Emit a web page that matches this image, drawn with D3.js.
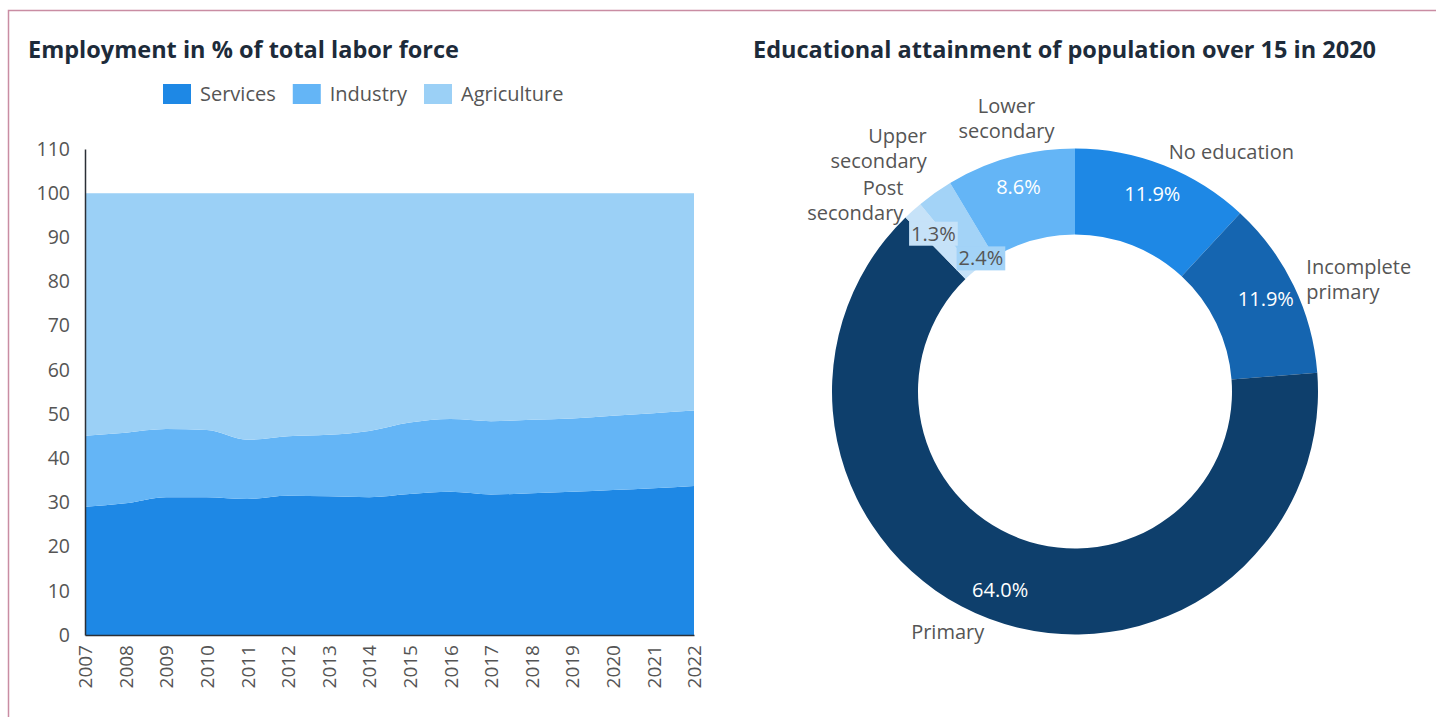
<!DOCTYPE html>
<html><head><meta charset="utf-8">
<script src="https://cdn.jsdelivr.net/npm/d3@7"></script>
<style>
html,body{margin:0;padding:0;background:#fff;}
svg{display:block;font-family:"Open Sans",sans-serif;}
</style></head><body>
<svg id="c" width="1436" height="717"></svg>
<script>
// ---------- data ----------
const years = [2007,2008,2009,2010,2011,2012,2013,2014,2015,2016,2017,2018,2019,2020,2021,2022];
const services    = [29.0,29.8,31.2,31.2,30.8,31.5,31.4,31.2,31.9,32.4,31.8,32.1,32.4,32.8,33.2,33.7];
const industry    = [16.1,16.0,15.4,15.2,13.4,13.5,13.9,15.0,16.2,16.5,16.6,16.6,16.6,16.8,17.0,17.1];
const agriculture = [54.9,54.2,53.4,53.6,55.8,55.0,54.7,53.8,51.9,51.1,51.6,51.3,51.0,50.4,49.8,49.2];
const seriesNames = ["Services","Industry","Agriculture"];
const yTicks = [0,10,20,30,40,50,60,70,80,90,100,110];

const eduCategories = ["No education","Incomplete primary","Primary","Post secondary","Upper secondary","Lower secondary"];
const eduLabels = ["No education","Incomplete\nprimary","Primary","Post\nsecondary","Upper\nsecondary","Lower\nsecondary"];
const eduValues = [11.9,11.9,64.0,1.3,2.4,8.6];

// ---------- styles ----------
const areaColors = ["#1e88e5","#64b5f6","#9bd0f6"];
const eduColors = ["#1e88e5","#1565b0","#0e3f6c","#c6e2f8","#a3d3f7","#64b5f6"];
const titleColor = "#1d2b3a";
const textColor = "#555";

const svg = d3.select("#c");

// frame
svg.append("path").attr("d","M8.5,717 V10.5 H1436")
  .attr("fill","none").attr("stroke","#c98da3").attr("stroke-width",1.5);

// titles
svg.append("text").attr("x",28).attr("y",58)
  .attr("font-size",23.5).attr("font-weight",700).attr("fill",titleColor)
  .text("Employment in % of total labor force");
svg.append("text").attr("x",753).attr("y",58)
  .attr("font-size",23.5).attr("font-weight",700).attr("fill",titleColor)
  .text("Educational attainment of population over 15 in 2020");

// ---------- stacked area ----------
const x = d3.scaleLinear().domain([2007,2022]).range([85,694]);
const y = d3.scaleLinear().domain([0,110]).range([635,149]);

const rows = years.map((yr,i)=>({year:yr, Services:services[i], Industry:industry[i], Agriculture:agriculture[i]}));
const stacked = d3.stack().keys(seriesNames)(rows);
const area = d3.area()
  .x(d=>x(d.data.year)).y0(d=>y(d[0])).y1(d=>y(d[1]))
  .curve(d3.curveMonotoneX);

svg.append("g").selectAll("path").data(stacked).join("path")
  .attr("d",area).attr("fill",(d,i)=>areaColors[i]);

const gy = svg.append("g").attr("transform","translate(85,0)")
  .call(d3.axisLeft(y).tickValues(yTicks).tickSize(0).tickPadding(15));
gy.select(".domain").attr("stroke","#2b2f36").attr("stroke-width",1.5);
gy.selectAll("text").attr("font-size",19.5).attr("fill",textColor).attr("font-family","Open Sans");

const gx = svg.append("g").attr("transform","translate(0,635)")
  .call(d3.axisBottom(x).tickValues(years).tickFormat(d3.format("d")).tickSize(0));
gx.select(".domain").attr("stroke","#2b2f36").attr("stroke-width",1.5);
gx.selectAll("text").attr("font-size",19).attr("fill",textColor).attr("font-family","Open Sans")
  .attr("transform","rotate(-90)").attr("text-anchor","end")
  .attr("x",-10).attr("y",0).attr("dy","0.35em");

// legend
let lx = 163;
seriesNames.forEach((n,i)=>{
  svg.append("rect").attr("x",lx).attr("y",84).attr("width",28).attr("height",20).attr("fill",areaColors[i]);
  const t = svg.append("text").attr("x",lx+37).attr("y",94).attr("dy","0.35em")
    .attr("font-size",20).attr("fill",textColor).text(n);
  lx += 37 + t.node().getComputedTextLength() + 17;
});

// ---------- donut ----------
const cx = 1075, cy = 391.5, rOut = 243, rIn = 157;
const pie = d3.pie().sort(null).value(d=>d);
const arcs = pie(eduValues);
const arcGen = d3.arc().innerRadius(rIn).outerRadius(rOut);
const gd = svg.append("g").attr("transform",`translate(${cx},${cy})`);
gd.selectAll("path").data(arcs).join("path").attr("d",arcGen).attr("fill",(d,i)=>eduColors[i]);

function overlap(a,b){ return a.x0<b.x1 && b.x0<a.x1 && a.y0<b.y1 && b.y0<a.y1; }

// percentage labels
const pctBoxes = [];
arcs.forEach((a,i)=>{
  const m = (a.startAngle+a.endAngle)/2;
  const light = d3.hsl(eduColors[i]).l > 0.7;
  const txt = d3.format(".1f")(eduValues[i]) + "%";
  const g = svg.append("g");
  const rect = g.append("rect");
  const t = g.append("text").attr("text-anchor","middle").attr("dy","0.35em")
    .attr("font-size",20).attr("fill", light ? "#555" : "#fff").text(txt);
  const w = t.node().getComputedTextLength() + 4, h = 24;
  let r = 212, box;
  while (true) {
    const px = cx + r*Math.sin(m), py = cy - r*Math.cos(m);
    box = {x0:px-w/2, x1:px+w/2, y0:py-h/2, y1:py+h/2, px, py};
    if (!pctBoxes.some(b=>overlap(b,box)) || r < rIn) break;
    r -= 1;
  }
  pctBoxes.push(box);
  t.attr("x",box.px).attr("y",box.py);
  if (light) rect.attr("x",box.x0).attr("y",box.y0).attr("width",w).attr("height",h).attr("fill",eduColors[i]);
  else rect.remove();
});

// category labels outside
const lh = 25, rLab = 257;
const labBoxes = [];
arcs.forEach((a,i)=>{
  const m = (a.startAngle+a.endAngle)/2;
  const s = Math.sin(m), c = Math.cos(m);
  const px = cx + rLab*s, py = cy - rLab*c;
  const lines = eduLabels[i].split("\n");
  const anchor = s>0.3 ? "start" : (s<-0.3 ? "end" : "middle");
  const h = lines.length*lh;
  let top = Math.abs(s)<=0.3 ? (c>0 ? py-h : py) : py-h/2;
  const t = svg.append("text").attr("text-anchor",anchor).attr("font-size",20).attr("fill",textColor);
  const spans = lines.map(l=>t.append("tspan").attr("x",px).attr("dy",0).text(l));
  const w = d3.max(spans, sp=>sp.node().getComputedTextLength());
  const x0 = anchor==="start" ? px : (anchor==="end" ? px-w : px-w/2);
  let box = {x0, x1:x0+w, y0:top, y1:top+h};
  let guard = 0;
  while (guard++ < 20) {
    const hit = labBoxes.find(b=>overlap(b,box));
    if (!hit) break;
    top = c>0 ? hit.y0 - h - 2 : hit.y1 + 2;
    box = {x0, x1:x0+w, y0:top, y1:top+h};
  }
  labBoxes.push(box);
  spans.forEach((sp,k)=>sp.attr("y", top + lh*(k+0.5)).attr("dy","0.35em"));
});
</script>
</body></html>
